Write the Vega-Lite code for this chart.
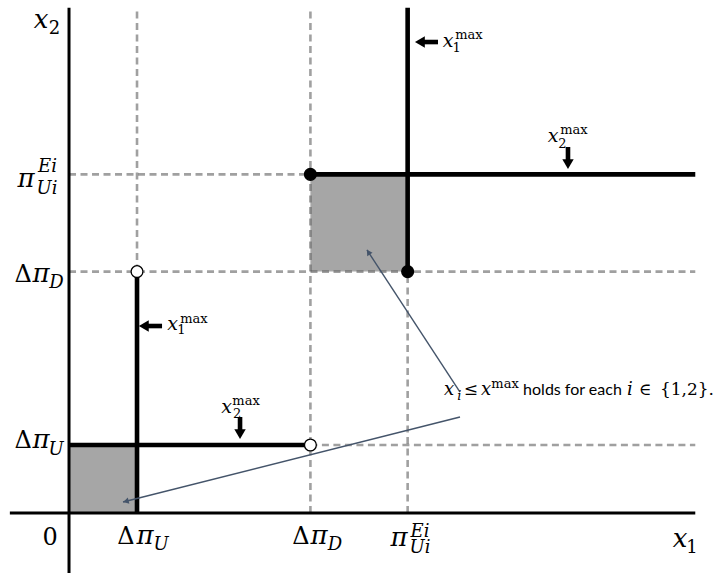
{
  "$schema": "https://vega.github.io/schema/vega-lite/v6.json",
  "width": 722,
  "height": 573,
  "padding": 0,
  "autosize": {"type": "none"},
  "background": "#ffffff",
  "config": {"view": {"stroke": null}, "text": {"font": "DejaVu Serif", "align": "center", "baseline": "alphabetic", "color": "#000000"}},
  "datasets": {
    "regions": [
      {"x": 0, "y": 0, "x2": 1, "y2": 1},
      {"x": 3.55, "y": 3.55, "x2": 4.98, "y2": 4.98}
    ],
    "guides": [
      {"x": 1, "y": 3.55, "x2": 1, "y2": 7.43},
      {"x": 3.55, "y": 0, "x2": 3.55, "y2": 7.43},
      {"x": 4.98, "y": 0, "x2": 4.98, "y2": 3.55},
      {"x": 0, "y": 4.98, "x2": 3.55, "y2": 4.98},
      {"x": 0, "y": 3.55, "x2": 9.21, "y2": 3.55},
      {"x": 3.55, "y": 1, "x2": 9.21, "y2": 1}
    ],
    "axes": [
      {"x": 0, "y": -0.9, "x2": 0, "y2": 7.43},
      {"x": -0.87, "y": 0, "x2": 9.21, "y2": 0}
    ],
    "bounds": [
      {"x": 1, "y": 0, "x2": 1, "y2": 3.55},
      {"x": 0, "y": 1, "x2": 3.55, "y2": 1},
      {"x": 4.98, "y": 3.55, "x2": 4.98, "y2": 7.43},
      {"x": 3.55, "y": 4.98, "x2": 9.21, "y2": 4.98}
    ],
    "kinks": [
      {"x": 1, "y": 3.55, "kind": "open"},
      {"x": 3.55, "y": 1, "kind": "open"},
      {"x": 3.55, "y": 4.98, "kind": "closed"},
      {"x": 4.98, "y": 3.55, "kind": "closed"}
    ],
    "shafts": [
      {"x": 1.368, "y": 2.75, "x2": 1.16, "y2": 2.75},
      {"x": 5.426, "y": 6.926, "x2": 5.22, "y2": 6.926},
      {"x": 2.515, "y": 1.412, "x2": 2.515, "y2": 1.22},
      {"x": 7.338, "y": 5.382, "x2": 7.338, "y2": 5.19}
    ],
    "heads": [
      {"x": 1.1, "y": 2.75, "dir": "left"},
      {"x": 5.16, "y": 6.926, "dir": "left"},
      {"x": 2.515, "y": 1.16, "dir": "down"},
      {"x": 7.338, "y": 5.13, "dir": "down"}
    ],
    "pointers": [
      {"x": 5.75, "y": 1.412, "x2": 0.794, "y2": 0.162},
      {"x": 5.75, "y": 1.779, "x2": 4.382, "y2": 3.868}
    ],
    "pointerHeads": [
      {"x": 0.85, "y": 0.176, "angle": 255.8},
      {"x": 4.41, "y": 3.825, "angle": 326.8}
    ],
    "labels": [
      {"x": -0.412, "y": 7.132, "t": "x", "role": "var"},
      {"x": -0.213, "y": 7.044, "t": "2", "role": "num"},
      {"x": -0.632, "y": 4.794, "t": "π", "role": "var"},
      {"x": -0.324, "y": 4.691, "t": "Ui", "role": "idx"},
      {"x": -0.316, "y": 5.015, "t": "Ei", "role": "idx"},
      {"x": -0.676, "y": 3.397, "t": "Δ", "role": "op"},
      {"x": -0.412, "y": 3.397, "t": "π", "role": "var"},
      {"x": -0.184, "y": 3.309, "t": "D", "role": "idx"},
      {"x": -0.676, "y": 0.956, "t": "Δ", "role": "op"},
      {"x": -0.412, "y": 0.956, "t": "π", "role": "var"},
      {"x": -0.191, "y": 0.853, "t": "U", "role": "idx"},
      {"x": -0.279, "y": -0.471, "t": "0", "role": "op"},
      {"x": 0.838, "y": -0.456, "t": "Δ", "role": "op"},
      {"x": 1.118, "y": -0.456, "t": "π", "role": "var"},
      {"x": 1.353, "y": -0.544, "t": "U", "role": "idx"},
      {"x": 3.412, "y": -0.456, "t": "Δ", "role": "op"},
      {"x": 3.676, "y": -0.456, "t": "π", "role": "var"},
      {"x": 3.912, "y": -0.544, "t": "D", "role": "idx"},
      {"x": 4.853, "y": -0.485, "t": "π", "role": "var"},
      {"x": 5.162, "y": -0.588, "t": "Ui", "role": "idx"},
      {"x": 5.162, "y": -0.353, "t": "Ei", "role": "idx"},
      {"x": 8.985, "y": -0.5, "t": "x", "role": "var"},
      {"x": 9.162, "y": -0.588, "t": "1", "role": "num"},
      {"x": 1.522, "y": 2.691, "t": "x", "role": "bvar"},
      {"x": 1.654, "y": 2.632, "t": "1", "role": "bsub"},
      {"x": 1.838, "y": 2.794, "t": "max", "role": "bsub"},
      {"x": 5.574, "y": 6.853, "t": "x", "role": "bvar"},
      {"x": 5.699, "y": 6.779, "t": "1", "role": "bsub"},
      {"x": 5.882, "y": 6.971, "t": "max", "role": "bsub"},
      {"x": 2.316, "y": 1.471, "t": "x", "role": "bvar"},
      {"x": 2.471, "y": 1.397, "t": "2", "role": "bsub"},
      {"x": 2.603, "y": 1.588, "t": "max", "role": "bsub"},
      {"x": 7.118, "y": 5.456, "t": "x", "role": "bvar"},
      {"x": 7.257, "y": 5.368, "t": "2", "role": "bsub"},
      {"x": 7.426, "y": 5.574, "t": "max", "role": "bsub"},
      {"x": 5.59, "y": 1.735, "t": "x", "role": "nvar"},
      {"x": 5.74, "y": 1.662, "t": "i", "role": "nsub"},
      {"x": 5.91, "y": 1.735, "t": "≤", "role": "nsym"},
      {"x": 6.132, "y": 1.735, "t": "x", "role": "nvar"},
      {"x": 6.412, "y": 1.838, "t": "max", "role": "nsup"},
      {"x": 7.404, "y": 1.735, "t": "holds for each", "role": "note"},
      {"x": 8.25, "y": 1.735, "t": "i", "role": "nvar"},
      {"x": 8.471, "y": 1.735, "t": "∈", "role": "nsym"},
      {"x": 9.088, "y": 1.735, "t": "{1,2}.", "role": "nsym"}
    ]
  },
  "encoding": {
    "x": {"field": "x", "type": "quantitative", "scale": {"domain": [-1.015, 9.603], "nice": false, "zero": false}, "axis": null},
    "y": {"field": "y", "type": "quantitative", "scale": {"domain": [-0.882, 7.544], "nice": false, "zero": false}, "axis": null}
  },
  "layer": [
    {
      "data": {"name": "regions"},
      "mark": {"type": "rect", "color": "#a6a6a6", "opacity": 1},
      "encoding": {"x2": {"field": "x2"}, "y2": {"field": "y2"}}
    },
    {
      "data": {"name": "guides"},
      "mark": {"type": "rule", "color": "#4f4f4f", "opacity": 0.54, "strokeWidth": 2.6, "strokeDash": [7, 4.5]},
      "encoding": {"x2": {"field": "x2"}, "y2": {"field": "y2"}}
    },
    {
      "data": {"name": "axes"},
      "mark": {"type": "rule", "color": "#000000", "strokeWidth": 3},
      "encoding": {"x2": {"field": "x2"}, "y2": {"field": "y2"}}
    },
    {
      "data": {"name": "bounds"},
      "mark": {"type": "rule", "color": "#000000", "strokeWidth": 4.6},
      "encoding": {"x2": {"field": "x2"}, "y2": {"field": "y2"}}
    },
    {
      "data": {"name": "pointers"},
      "mark": {"type": "rule", "color": "#44546a", "strokeWidth": 1.4},
      "encoding": {"x2": {"field": "x2"}, "y2": {"field": "y2"}}
    },
    {
      "data": {"name": "pointerHeads"},
      "mark": {"type": "point", "shape": "triangle", "filled": true, "color": "#44546a", "opacity": 1, "size": 40},
      "encoding": {"angle": {"field": "angle", "type": "quantitative", "scale": null}}
    },
    {
      "data": {"name": "shafts"},
      "mark": {"type": "rule", "color": "#000000", "strokeWidth": 4.6},
      "encoding": {"x2": {"field": "x2"}, "y2": {"field": "y2"}}
    },
    {
      "data": {"name": "heads"},
      "mark": {"type": "point", "filled": true, "color": "#000000", "opacity": 1, "size": 130},
      "encoding": {
        "shape": {"field": "dir", "type": "nominal", "scale": {"domain": ["left", "down"], "range": ["triangle-left", "triangle-down"]}, "legend": null}
      }
    },
    {
      "data": {"name": "kinks"},
      "mark": {"type": "point", "filled": true, "stroke": "#000000", "strokeWidth": 1.3, "opacity": 1, "size": 140},
      "encoding": {
        "fill": {"field": "kind", "type": "nominal", "scale": {"domain": ["open", "closed"], "range": ["#ffffff", "#000000"]}, "legend": null}
      }
    },
    {
      "data": {"name": "labels"},
      "transform": [{"filter": "datum.role === 'var'"}],
      "mark": {"type": "text", "fontStyle": "italic", "fontSize": 26},
      "encoding": {"text": {"field": "t"}}
    },
    {
      "data": {"name": "labels"},
      "transform": [{"filter": "datum.role === 'op'"}],
      "mark": {"type": "text", "fontSize": 24},
      "encoding": {"text": {"field": "t"}}
    },
    {
      "data": {"name": "labels"},
      "transform": [{"filter": "datum.role === 'idx'"}],
      "mark": {"type": "text", "fontStyle": "italic", "fontSize": 18},
      "encoding": {"text": {"field": "t"}}
    },
    {
      "data": {"name": "labels"},
      "transform": [{"filter": "datum.role === 'num'"}],
      "mark": {"type": "text", "fontSize": 18},
      "encoding": {"text": {"field": "t"}}
    },
    {
      "data": {"name": "labels"},
      "transform": [{"filter": "datum.role === 'bvar'"}],
      "mark": {"type": "text", "fontStyle": "italic", "fontSize": 19},
      "encoding": {"text": {"field": "t"}}
    },
    {
      "data": {"name": "labels"},
      "transform": [{"filter": "datum.role === 'bsub'"}],
      "mark": {"type": "text", "fontSize": 13},
      "encoding": {"text": {"field": "t"}}
    },
    {
      "data": {"name": "labels"},
      "transform": [{"filter": "datum.role === 'nvar'"}],
      "mark": {"type": "text", "fontStyle": "italic", "fontSize": 18},
      "encoding": {"text": {"field": "t"}}
    },
    {
      "data": {"name": "labels"},
      "transform": [{"filter": "datum.role === 'nsub'"}],
      "mark": {"type": "text", "fontStyle": "italic", "fontSize": 13},
      "encoding": {"text": {"field": "t"}}
    },
    {
      "data": {"name": "labels"},
      "transform": [{"filter": "datum.role === 'nsym'"}],
      "mark": {"type": "text", "fontSize": 17},
      "encoding": {"text": {"field": "t"}}
    },
    {
      "data": {"name": "labels"},
      "transform": [{"filter": "datum.role === 'nsup'"}],
      "mark": {"type": "text", "fontSize": 13},
      "encoding": {"text": {"field": "t"}}
    },
    {
      "data": {"name": "labels"},
      "transform": [{"filter": "datum.role === 'note'"}],
      "mark": {"type": "text", "font": "Lato", "fontSize": 16},
      "encoding": {"text": {"field": "t"}}
    }
  ]
}
